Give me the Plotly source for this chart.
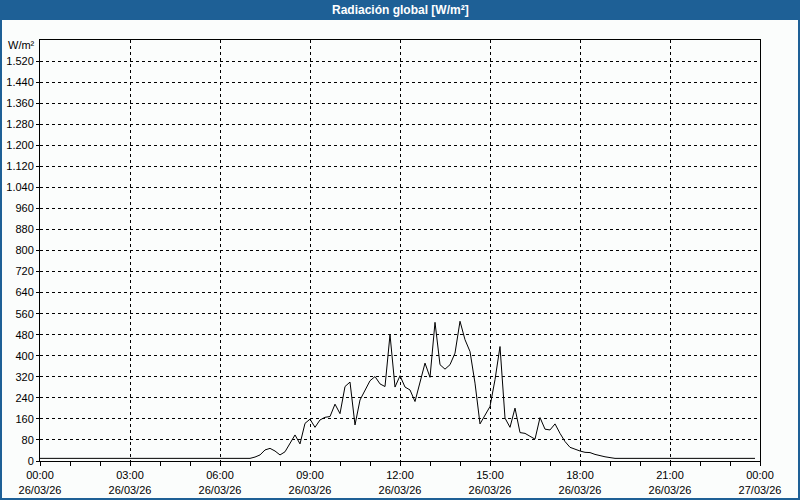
import pandas as pd
import plotly.graph_objects as go

# Global radiation, 10-minute readings from 26/03/26 00:00 to 23:50 (W/m²)
radiation = [
    # 00:00 - 06:50
    10, 10, 10, 10, 10, 10, 10, 10, 10, 10, 10, 10,
    10, 10, 10, 10, 10, 10, 10, 10, 10, 10, 10, 10,
    10, 10, 10, 10, 10, 10, 10, 10, 10, 10, 10, 10,
    10, 10, 10, 10, 10, 10,
    # 07:00 - 08:50
    10, 15, 23, 42, 48, 38, 23, 35, 65, 99, 65, 143,
    # 09:00 - 10:50
    159, 128, 156, 166, 169, 216, 180, 283, 300, 137, 232, 270,
    # 11:00 - 12:50
    305, 321, 293, 283, 480, 281, 324, 281, 270, 226, 295, 372,
    # 13:00 - 14:50
    318, 527, 366, 349, 366, 410, 531, 461, 416, 296, 141, 175,
    # 15:00 - 16:50
    207, 309, 435, 163, 128, 201, 108, 105, 93, 83, 165, 121,
    # 17:00 - 18:50
    118, 141, 105, 74, 52, 44, 38, 33, 32, 25, 20, 16,
    # 19:00 - 23:50
    13, 10, 10, 10, 10, 10, 10, 10, 10, 10, 10, 10,
    10, 10, 10, 10, 10, 10, 10, 10, 10, 10, 10, 10,
    10, 10, 10, 10, 10, 10,
]
times = pd.date_range("2026-03-26 00:00", periods=len(radiation), freq="10min")

x_tick_values = ["2026-03-26 00:00", "2026-03-26 03:00", "2026-03-26 06:00",
                 "2026-03-26 09:00", "2026-03-26 12:00", "2026-03-26 15:00",
                 "2026-03-26 18:00", "2026-03-26 21:00", "2026-03-27 00:00"]
x_tick_labels = ["00:00<br>26/03/26", "03:00<br>26/03/26", "06:00<br>26/03/26",
                 "09:00<br>26/03/26", "12:00<br>26/03/26", "15:00<br>26/03/26",
                 "18:00<br>26/03/26", "21:00<br>26/03/26", "00:00<br>27/03/26"]
y_tick_values = [0, 80, 160, 240, 320, 400, 480, 560, 640, 720, 800, 880, 960,
                 1040, 1120, 1200, 1280, 1360, 1440, 1520]
y_max = 1600

title_text = "Radiación global [W/m²]"
unit_text = "W/m²"

BLUE = "#1e6096"
BG = "#fbfdfc"
FONT = "Liberation Sans"

W, H = 800, 500
ML, MR, MT, MB = 40, 40, 40, 39
PW, PH = W - ML - MR, H - MT - MB

def px_x(px):
    return (px - ML) / PW

def px_y(py):
    return 1 - (py - MT) / PH

fig = go.Figure()
fig.add_trace(go.Scatter(x=times, y=radiation, mode="lines",
                         line=dict(color="black", width=1), hoverinfo="skip"))

fig.update_layout(
    width=W, height=H,
    margin=dict(l=ML, r=MR, t=MT, b=MB, pad=0, autoexpand=False),
    paper_bgcolor=BG, plot_bgcolor=BG,
    showlegend=False,
    separators=",.",
    font=dict(family=FONT, size=11, color="black"),
    xaxis=dict(
        type="date", automargin=False,
        range=["2026-03-26 00:00", "2026-03-27 00:00"],
        tickmode="array", tickvals=x_tick_values, ticktext=x_tick_labels,
        showgrid=True, gridcolor="black", gridwidth=1, griddash="3px,3px",
        showline=True, linecolor="black", linewidth=1, mirror=True,
        ticks="outside", ticklen=4, tickcolor="black",
        minor=dict(dtick=3600000, tick0="2026-03-26 00:00", ticks="outside",
                   ticklen=4, tickcolor="black", showgrid=False),
        tickfont=dict(family=FONT, size=11, color="black"),
        zeroline=False, fixedrange=True,
    ),
    yaxis=dict(
        automargin=False,
        range=[0, y_max],
        tickmode="array", tickvals=y_tick_values, tickformat=",d",
        showgrid=True, gridcolor="black", gridwidth=1, griddash="3px,3px",
        showline=True, linecolor="black", linewidth=1, mirror=True,
        ticks="outside", ticklen=3, tickcolor="black",
        tickfont=dict(family=FONT, size=11, color="black"),
        zeroline=False, fixedrange=True,
    ),
    shapes=[
        dict(type="rect", xref="paper", yref="paper",
             x0=px_x(0), x1=px_x(W), y0=px_y(20), y1=px_y(0),
             fillcolor=BLUE, line=dict(width=0), layer="above"),
        dict(type="rect", xref="paper", yref="paper",
             x0=px_x(1), x1=px_x(W - 1), y0=px_y(H - 1), y1=px_y(1),
             fillcolor="rgba(0,0,0,0)", line=dict(color=BLUE, width=2), layer="above"),
    ],
    annotations=[
        dict(text="<b>" + title_text + "</b>", xref="paper", yref="paper",
             x=px_x(400), y=px_y(10), xanchor="center", yanchor="middle",
             showarrow=False, font=dict(family=FONT, size=12, color="white")),
        dict(text=unit_text, xref="paper", yref="paper",
             x=px_x(37), y=px_y(45), xanchor="right", yanchor="middle",
             showarrow=False, font=dict(family=FONT, size=11, color="black")),
    ],
)

fig.write_html("out.html", config={"displayModeBar": False},
               post_script="document.body.style.margin='0';")
